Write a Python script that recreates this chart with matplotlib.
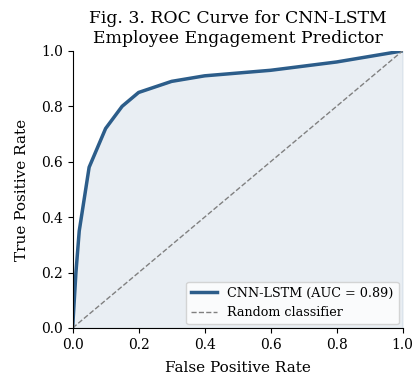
import numpy as np
import matplotlib
matplotlib.use("Agg")
import matplotlib.pyplot as plt

plt.rcParams['font.family'] = ['DejaVu Serif']

fpr = [0.0, 0.01, 0.02, 0.05, 0.1, 0.15, 0.2, 0.3, 0.4, 0.6, 0.8, 1.0]
tpr = [0.0, 0.2, 0.35, 0.58, 0.72, 0.8, 0.85, 0.89, 0.91, 0.93, 0.96, 1.0]
auc = 0.89
col = "#2c5d8a"

fig, ax = plt.subplots(figsize=(4.15, 3.77), dpi=100)
ax.fill_between(fpr, tpr, 0, color=col, alpha=0.1)
ax.plot(fpr, tpr, color=col, lw=2.5, label="CNN-LSTM (AUC = %.2f)" % auc)
ax.plot([0, 1], [0, 1], "--", color="gray", lw=1, label="Random classifier")
ax.set_xlim(0, 1)
ax.set_ylim(0, 1)
ax.spines['top'].set_visible(False)
ax.spines['right'].set_visible(False)
ax.set_xlabel("False Positive Rate", fontsize=11, labelpad=7)
ax.set_ylabel("True Positive Rate", fontsize=11, labelpad=9)
ax.set_title("Fig. 3. ROC Curve for CNN-LSTM\nEmployee Engagement Predictor", fontsize=12.4)
ax.legend(loc="lower right", fontsize=9.2, borderaxespad=0.3)
fig.subplots_adjust(left=0.175, right=0.97, bottom=0.13, top=0.865)
fig.savefig("out.png")
